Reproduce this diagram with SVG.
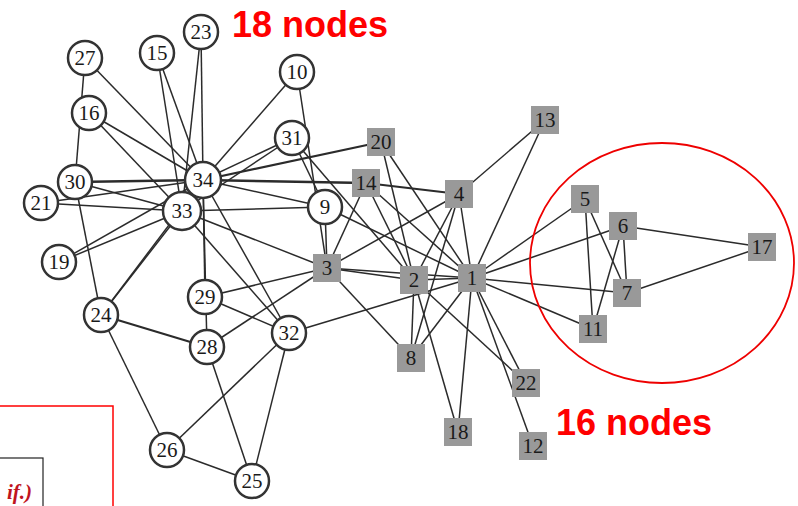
<svg xmlns="http://www.w3.org/2000/svg" width="798" height="506" viewBox="0 0 798 506">
<style>
.e line{stroke:#2b2b2b;stroke-width:1.5}
.c circle{fill:#fff;stroke:#333;stroke-width:2.5}
.s rect{fill:#999}
.n text{font-family:"Liberation Serif",serif;font-size:21px;fill:#1a1a1a;text-anchor:middle}
.big{font-family:"Liberation Sans",Arial,sans-serif;font-weight:bold;font-size:36px;fill:#f00}
</style>
<rect width="798" height="506" fill="#fff"/>
<g id="connectors" class="e">
<line x1="472" y1="278" x2="414" y2="280"/>
<line x1="472" y1="278" x2="327" y2="268"/>
<line x1="472" y1="278" x2="459" y2="194"/>
<line x1="472" y1="278" x2="585" y2="199"/>
<line x1="472" y1="278" x2="623" y2="226"/>
<line x1="472" y1="278" x2="627" y2="293"/>
<line x1="472" y1="278" x2="411" y2="358"/>
<line x1="472" y1="278" x2="325" y2="207"/>
<line x1="472" y1="278" x2="593" y2="329"/>
<line x1="472" y1="278" x2="533" y2="446"/>
<line x1="472" y1="278" x2="545" y2="120"/>
<line x1="472" y1="278" x2="366" y2="183"/>
<line x1="472" y1="278" x2="458" y2="432"/>
<line x1="472" y1="278" x2="381" y2="142"/>
<line x1="472" y1="278" x2="526" y2="383"/>
<line x1="472" y1="278" x2="289" y2="333"/>
<line x1="414" y1="280" x2="327" y2="268"/>
<line x1="414" y1="280" x2="459" y2="194"/>
<line x1="414" y1="280" x2="411" y2="358"/>
<line x1="414" y1="280" x2="366" y2="183"/>
<line x1="414" y1="280" x2="458" y2="432"/>
<line x1="414" y1="280" x2="381" y2="142"/>
<line x1="414" y1="280" x2="526" y2="383"/>
<line x1="414" y1="280" x2="292" y2="138"/>
<line x1="327" y1="268" x2="459" y2="194"/>
<line x1="327" y1="268" x2="411" y2="358"/>
<line x1="327" y1="268" x2="325" y2="207"/>
<line x1="327" y1="268" x2="297" y2="72"/>
<line x1="327" y1="268" x2="366" y2="183"/>
<line x1="327" y1="268" x2="207" y2="347"/>
<line x1="327" y1="268" x2="205" y2="297"/>
<line x1="327" y1="268" x2="182" y2="211"/>
<line x1="459" y1="194" x2="411" y2="358"/>
<line x1="459" y1="194" x2="545" y2="120"/>
<line x1="459" y1="194" x2="366" y2="183" style="stroke-width:2.2"/>
<line x1="585" y1="199" x2="627" y2="293"/>
<line x1="585" y1="199" x2="593" y2="329"/>
<line x1="623" y1="226" x2="627" y2="293"/>
<line x1="623" y1="226" x2="593" y2="329"/>
<line x1="623" y1="226" x2="762" y2="247"/>
<line x1="627" y1="293" x2="762" y2="247"/>
<line x1="325" y1="207" x2="292" y2="138"/>
<line x1="325" y1="207" x2="182" y2="211"/>
<line x1="325" y1="207" x2="203" y2="180"/>
<line x1="297" y1="72" x2="203" y2="180"/>
<line x1="366" y1="183" x2="203" y2="180" style="stroke-width:2.5"/>
<line x1="157" y1="53" x2="182" y2="211"/>
<line x1="157" y1="53" x2="203" y2="180"/>
<line x1="89" y1="113" x2="182" y2="211"/>
<line x1="89" y1="113" x2="203" y2="180"/>
<line x1="59" y1="262" x2="182" y2="211"/>
<line x1="59" y1="262" x2="203" y2="180"/>
<line x1="381" y1="142" x2="203" y2="180" style="stroke-width:2.2"/>
<line x1="41" y1="203" x2="182" y2="211"/>
<line x1="41" y1="203" x2="203" y2="180"/>
<line x1="201" y1="32" x2="182" y2="211"/>
<line x1="201" y1="32" x2="203" y2="180"/>
<line x1="101" y1="315" x2="167" y2="450"/>
<line x1="101" y1="315" x2="207" y2="347" style="stroke-width:2.2"/>
<line x1="101" y1="315" x2="75" y2="182"/>
<line x1="101" y1="315" x2="182" y2="211"/>
<line x1="101" y1="315" x2="203" y2="180"/>
<line x1="252" y1="481" x2="167" y2="450"/>
<line x1="252" y1="481" x2="207" y2="347"/>
<line x1="252" y1="481" x2="289" y2="333"/>
<line x1="167" y1="450" x2="289" y2="333"/>
<line x1="85" y1="58" x2="75" y2="182"/>
<line x1="85" y1="58" x2="203" y2="180"/>
<line x1="207" y1="347" x2="203" y2="180"/>
<line x1="205" y1="297" x2="289" y2="333"/>
<line x1="205" y1="297" x2="203" y2="180"/>
<line x1="75" y1="182" x2="182" y2="211"/>
<line x1="75" y1="182" x2="203" y2="180" style="stroke-width:2.5"/>
<line x1="292" y1="138" x2="182" y2="211"/>
<line x1="292" y1="138" x2="203" y2="180"/>
<line x1="289" y1="333" x2="182" y2="211"/>
<line x1="289" y1="333" x2="203" y2="180"/>
<line x1="182" y1="211" x2="203" y2="180"/>
</g>
<g class="n">
<g id="n1" class="s"><rect x="458" y="264" width="28" height="28"/><text x="472" y="285">1</text></g>
<g id="n2" class="s"><rect x="400" y="266" width="28" height="28"/><text x="414" y="287">2</text></g>
<g id="n3" class="s"><rect x="313" y="254" width="28" height="28"/><text x="327" y="275">3</text></g>
<g id="n4" class="s"><rect x="445" y="180" width="28" height="28"/><text x="459" y="201">4</text></g>
<g id="n5" class="s"><rect x="571" y="185" width="28" height="28"/><text x="585" y="206">5</text></g>
<g id="n6" class="s"><rect x="609" y="212" width="28" height="28"/><text x="623" y="233">6</text></g>
<g id="n7" class="s"><rect x="613" y="279" width="28" height="28"/><text x="627" y="300">7</text></g>
<g id="n8" class="s"><rect x="397" y="344" width="28" height="28"/><text x="411" y="365">8</text></g>
<g id="n11" class="s"><rect x="579" y="315" width="28" height="28"/><text x="593" y="336">11</text></g>
<g id="n12" class="s"><rect x="519" y="432" width="28" height="28"/><text x="533" y="453">12</text></g>
<g id="n13" class="s"><rect x="531" y="106" width="28" height="28"/><text x="545" y="127">13</text></g>
<g id="n14" class="s"><rect x="352" y="169" width="28" height="28"/><text x="366" y="190">14</text></g>
<g id="n17" class="s"><rect x="748" y="233" width="28" height="28"/><text x="762" y="254">17</text></g>
<g id="n18" class="s"><rect x="444" y="418" width="28" height="28"/><text x="458" y="439">18</text></g>
<g id="n20" class="s"><rect x="367" y="128" width="28" height="28"/><text x="381" y="149">20</text></g>
<g id="n22" class="s"><rect x="512" y="369" width="28" height="28"/><text x="526" y="390">22</text></g>
<g id="n9" class="c"><circle cx="325" cy="207" r="17"/><text x="325" y="214">9</text></g>
<g id="n10" class="c"><circle cx="297" cy="72" r="17"/><text x="297" y="79">10</text></g>
<g id="n15" class="c"><circle cx="157" cy="53" r="17"/><text x="157" y="60">15</text></g>
<g id="n16" class="c"><circle cx="89" cy="113" r="17"/><text x="89" y="120">16</text></g>
<g id="n19" class="c"><circle cx="59" cy="262" r="17"/><text x="59" y="269">19</text></g>
<g id="n21" class="c"><circle cx="41" cy="203" r="17"/><text x="41" y="210">21</text></g>
<g id="n23" class="c"><circle cx="201" cy="32" r="17"/><text x="201" y="39">23</text></g>
<g id="n24" class="c"><circle cx="101" cy="315" r="17"/><text x="101" y="322">24</text></g>
<g id="n25" class="c"><circle cx="252" cy="481" r="17"/><text x="252" y="488">25</text></g>
<g id="n26" class="c"><circle cx="167" cy="450" r="17"/><text x="167" y="457">26</text></g>
<g id="n27" class="c"><circle cx="85" cy="58" r="17"/><text x="85" y="65">27</text></g>
<g id="n28" class="c"><circle cx="207" cy="347" r="17"/><text x="207" y="354">28</text></g>
<g id="n29" class="c"><circle cx="205" cy="297" r="17"/><text x="205" y="304">29</text></g>
<g id="n30" class="c"><circle cx="75" cy="182" r="17"/><text x="75" y="189">30</text></g>
<g id="n31" class="c"><circle cx="292" cy="138" r="17"/><text x="292" y="145">31</text></g>
<g id="n32" class="c"><circle cx="289" cy="333" r="17"/><text x="289" y="340">32</text></g>
<g id="n33" class="c"><circle cx="182" cy="211" r="19"/><text x="182" y="218">33</text></g>
<g id="n34" class="c"><circle cx="203" cy="180" r="18"/><text x="203" y="187">34</text></g>
</g>
<ellipse cx="662" cy="263" rx="132" ry="120" fill="none" stroke="#e00" stroke-width="1.8"/>
<text class="big" x="232" y="37">18 nodes</text>
<text class="big" x="556" y="435">16 nodes</text>
<rect x="-2" y="406" width="115" height="104" fill="none" stroke="#f00" stroke-width="1.5"/>
<rect x="-2" y="458" width="45" height="52" fill="none" stroke="#222" stroke-width="1.2"/>
<text x="32" y="499" text-anchor="end" font-family="Liberation Serif,serif" font-style="italic" font-weight="bold" font-size="21" fill="#c0141e">if.)</text>
</svg>
